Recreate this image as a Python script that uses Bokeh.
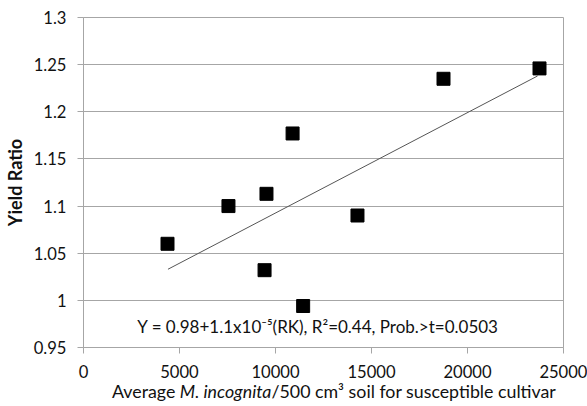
from bokeh.plotting import figure
from bokeh.models import Label, Range1d, FixedTicker, Div
from bokeh.layouts import column
from bokeh.embed import file_html
from bokeh.resources import INLINE

# data
rk = [4375, 7550, 9430, 9530, 10890, 11440, 14270, 18750, 23750]
yield_ratio = [1.060, 1.100, 1.032, 1.113, 1.177, 0.994, 1.090, 1.235, 1.246]
trend_x = [4400, 23650]
trend_y = [1.033, 1.238]
x_ticks = [0, 5000, 10000, 15000, 20000, 25000]
y_ticks = [0.95, 1.0, 1.05, 1.1, 1.15, 1.2, 1.25, 1.3]
y_tick_labels = {0.95: "0.95", 1.0: "1", 1.05: "1.05", 1.1: "1.1", 1.15: "1.15",
                 1.2: "1.2", 1.25: "1.25", 1.3: "1.3"}
equation = "Y = 0.98+1.1x10\u207b\u2075(RK), R\u00b2=0.44, Prob.>t=0.0503"
xlabel_parts = ["Average ", "M. incognita", "/500 cm\u00b3 soil for susceptible cultivar"]

FONT = "Lato"
GRID = "#a6a6a6"
TXT = "#111111"

p = figure(width=587, height=385, output_backend="svg", toolbar_location=None,
           x_range=Range1d(0, 25000), y_range=Range1d(0.95, 1.3),
           min_border_left=83, min_border_right=24, min_border_top=17, min_border_bottom=38)
p.background_fill_color = "white"
p.border_fill_color = "white"
p.outline_line_color = GRID
p.outline_line_width = 1

p.xgrid.grid_line_color = None
p.ygrid.grid_line_color = GRID
p.ygrid.grid_line_width = 1

for ax in (p.xaxis[0], p.yaxis[0]):
    ax.axis_line_color = GRID
    ax.major_tick_line_color = GRID
    ax.major_tick_out = 6
    ax.major_tick_in = 0
    ax.minor_tick_line_color = None
    ax.major_label_text_font = FONT
    ax.major_label_text_font_size = "16.6px"
    ax.major_label_text_color = TXT

p.xaxis.ticker = FixedTicker(ticks=x_ticks)
p.yaxis.ticker = FixedTicker(ticks=y_ticks)
p.yaxis.major_label_overrides = y_tick_labels
p.xaxis.major_label_standoff = 11
p.yaxis.major_label_standoff = 11

p.yaxis.axis_label = "Yield Ratio"
p.yaxis.axis_label_text_font = FONT
p.yaxis.axis_label_text_font_style = "bold"
p.yaxis.axis_label_text_font_size = "18px"
p.yaxis.axis_label_text_color = TXT
p.yaxis.axis_label_standoff = 5

p.line(trend_x, trend_y, line_color="#555555", line_width=1)
p.scatter(rk, yield_ratio, marker="square", size=13, fill_color="black", line_color="black")

p.add_layout(Label(x=12214, y=0.9723, text=equation, text_align="center",
                   text_baseline="alphabetic", text_font=FONT, text_font_size="17px",
                   text_color=TXT))

# x axis label with an italic part, as HTML text below the figure
xlabel_html = (
    '<div style="margin:-4px 0 0 112px; font-family:Lato; font-size:17.8px; '
    'line-height:20px; color:%s; white-space:nowrap">%s<i>%s</i>%s</div>'
    % (TXT, xlabel_parts[0], xlabel_parts[1], xlabel_parts[2])
)
xlabel = Div(text=xlabel_html, width=587, height=21, margin=(0, 0, 0, 0),
             styles={"overflow": "visible"})

layout = column(p, xlabel, spacing=0)

open("out.html", "w").write(file_html(layout, INLINE))
